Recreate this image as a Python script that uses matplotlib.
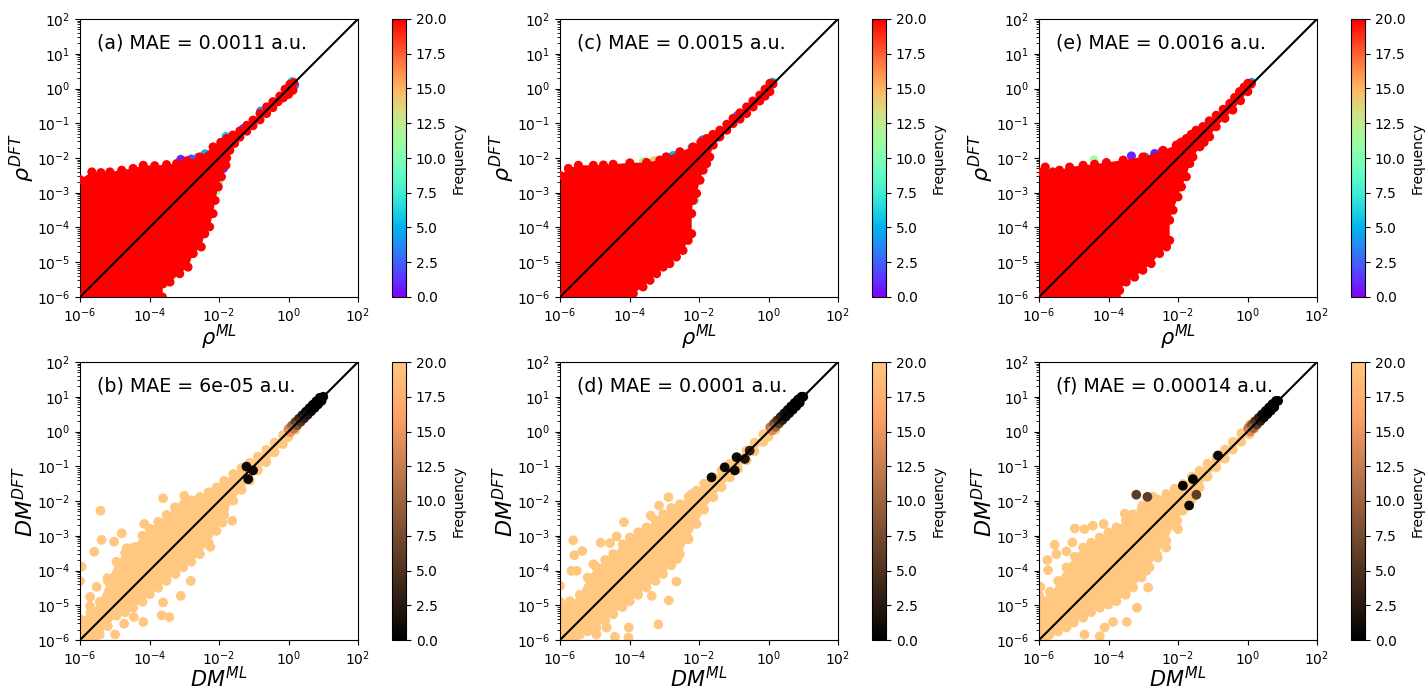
import numpy as np
import matplotlib
matplotlib.use("Agg")
from matplotlib import pyplot as plt
from matplotlib.ticker import NullLocator

# all coordinates below are log10 values

# ---- top row: electron density, outline of the (saturated) red cloud ----
a_edge_x = [-6, -6, -5.66, -5.40, -5.14, -4.80, -4.47, -4.18, -3.85, -3.51, -3.22, -2.93, -2.55, -2.17, -1.95,
            -1.78, -1.60, -1.40, -1.20, -1.02, -0.82, -0.63, -0.45, -0.25, -0.10, 0.04, 0.15,
            0.13, 0.00, -0.15, -0.30, -0.45, -0.63, -0.82, -1.02, -1.20, -1.40, -1.55, -1.69, -1.78, -1.80,
            -1.93, -2.02, -2.11, -2.17, -2.27, -2.41, -2.51, -2.74, -2.89, -3.13, -3.41, -3.61, -3.63]
a_edge_y = [-6, -2.62, -2.40, -2.42, -2.40, -2.35, -2.30, -2.21, -2.22, -2.19, -2.16, -2.08, -1.97, -1.68, -1.55,
            -1.44, -1.34, -1.22, -1.06, -0.91, -0.72, -0.53, -0.38, -0.22, -0.02, 0.12, 0.17,
            -0.05, -0.17, -0.27, -0.38, -0.55, -0.72, -0.90, -1.07, -1.23, -1.40, -1.58, -1.78, -2.00, -2.21,
            -2.54, -2.83, -3.22, -3.60, -3.98, -4.18, -4.56, -4.75, -5.14, -5.33, -5.57, -5.62, -6]
a_dot_x = [-3.10, -2.80, -2.60, -2.40, -1.80, -1.87, -2.02, -2.08, 0.10, 0.18, -1.30, -0.80]
a_dot_y = [-2.04, -2.03, -1.98, -1.88, -1.38, -2.30, -2.69, -2.95, 0.20, 0.10, -1.15, -0.65]
a_dot_f = [1, 2, 3, 5, 6, 1, 9, 11, 6, 3, 2, 4]

c_edge_x = [-6, -6, -5.76, -5.47, -5.04, -4.75, -4.47, -3.99, -3.51, -3.13, -2.94, -2.55, -2.17, -1.95, -1.78,
            -1.60, -1.40, -1.20, -1.02, -0.82, -0.63, -0.45, -0.25, -0.10, 0.04, 0.13,
            0.04, -0.10, -0.25, -0.44, -0.63, -0.82, -1.02, -1.20, -1.40, -1.59, -1.69, -1.78, -1.88, -1.97,
            -2.07, -2.17, -2.21, -2.21, -2.31, -2.46, -2.65, -2.84, -3.03, -3.22, -3.41, -3.61, -3.89, -3.94]
c_edge_y = [-6, -2.50, -2.30, -2.21, -2.21, -2.20, -2.18, -2.14, -2.13, -2.06, -1.97, -1.82, -1.68, -1.55, -1.44,
            -1.32, -1.20, -1.03, -0.86, -0.70, -0.53, -0.36, -0.19, -0.02, 0.15, 0.13,
            -0.09, -0.22, -0.36, -0.53, -0.72, -0.88, -1.01, -1.20, -1.39, -1.63, -1.97, -2.16, -2.35, -2.64,
            -3.02, -3.22, -3.60, -4.18, -4.37, -4.66, -4.85, -5.04, -5.14, -5.33, -5.52, -5.71, -5.90, -6]
c_dot_x = [-3.60, -3.30, -2.95, -2.75, -2.55, -2.20, -1.90, -1.45, -2.17, -2.12, 0.12, -0.90]
c_dot_y = [-2.10, -2.08, -1.97, -1.93, -1.84, -1.70, -1.48, -1.40, -3.10, -3.22, 0.18, -0.78]
c_dot_f = [12, 14, 6, 5, 2, 4, 3, 2, 7, 9, 5, 3]

e_edge_x = [-6, -6, -5.82, -5.60, -5.41, -5.12, -4.73, -4.40, -4.06, -3.58, -3.01, -2.43, -2.05, -1.90, -1.76,
            -1.62, -1.48, -1.28, -1.10, -0.90, -0.70, -0.51, -0.37, -0.23, -0.10, 0.01, 0.11,
            0.01, -0.20, -0.42, -0.65, -0.90, -1.09, -1.25, -1.37, -1.57, -1.66, -1.76, -1.90,
            -2.00, -2.14, -2.24, -2.24, -2.33, -2.53, -2.77, -3.01, -3.25, -3.49, -3.68, -3.77]
e_edge_y = [-6, -2.40, -2.26, -2.40, -2.35, -2.26, -2.21, -2.18, -2.13, -2.06, -1.97, -1.78, -1.63, -1.54, -1.44,
            -1.32, -1.20, -1.10, -0.93, -0.77, -0.60, -0.43, -0.26, -0.09, 0.04, 0.15, 0.13,
            -0.09, -0.35, -0.62, -0.86, -1.10, -1.39, -1.55, -1.68, -1.97, -2.16, -2.54, -2.83,
            -3.12, -3.50, -3.79, -4.37, -4.56, -4.75, -5.04, -5.23, -5.43, -5.57, -5.81, -6]
e_dot_x = [-4.42, -3.34, -2.95, -2.67, -2.45, -1.95, -1.28, -1.10, -1.62, -1.70, 0.12, -0.60]
e_dot_y = [-2.06, -1.94, -1.97, -1.87, -1.80, -1.58, -1.10, -1.02, -1.95, -2.05, 0.18, -0.60]
e_dot_f = [11, 1, 3, 1, 2, 2, 1, 2, 3, 9, 5, 2]

# ---- bottom row: density matrix, dense core band + scattered points ----
b_core_x = [-6, -5.7, -5.43, -5.2, -4.95, -4.7, -4.47, -4.2, -3.99, -3.75, -3.51, -3.25, -3.03, -2.8, -2.55,
            -2.3, -2.07, -1.85, -1.59, -1.35, -1.11, -0.88, -0.64, -0.40, -0.16, 0.05, 0.2,
            0.2, 0.0, -0.16, -0.4, -0.64, -0.88, -1.11, -1.35, -1.59, -1.85, -2.07, -2.3, -2.55, -2.8, -3.03,
            -3.25, -3.51, -3.75, -3.99, -4.2, -4.47, -4.7, -4.95, -5.2, -5.43, -5.6, -6]
b_core_y = [-5.40, -5.2, -4.9, -4.3, -3.75, -3.5, -3.34, -3.0, -2.80, -2.6, -2.40, -2.25, -2.10, -1.98, -1.89,
            -1.75, -1.61, -1.42, -1.22, -1.05, -0.90, -0.72, -0.53, -0.32, -0.10, 0.12, 0.28,
            0.05, -0.16, -0.36, -0.60, -0.88, -1.12, -1.41, -1.68, -1.99, -2.40, -2.86, -3.2, -3.53, -3.75, -3.91,
            -4.1, -4.30, -4.5, -4.68, -4.9, -5.07, -5.2, -5.30, -5.6, -5.84, -6, -6]
b_dot_x = [-3.61, -3.00, -5.41, -4.15, -5.38, -5.59, -4.80, -5.02, -5.95, -6.00, -5.52, -5.71, -5.21, -4.66,
           -4.40, -3.65, -3.43, -3.10, -4.18, -4.99, -4.73, -2.81, -2.25, -1.90, -1.62, -1.85, -2.43, -3.27,
           -2.55, -2.31, -1.93, -5.71, -5.43, -4.45, -3.61, -5.19, -3.94, -4.15]
b_dot_y = [-1.92, -1.85, -2.28, -2.66, -3.12, -3.46, -2.93, -3.17, -3.89, -4.30, -4.47, -4.76, -4.22, -3.36,
           -3.32, -5.29, -5.34, -4.73, -5.48, -5.84, -5.53, -4.30, -3.32, -2.62, -2.57, -2.23, -3.22, -2.18,
           -1.89, -1.89, -1.61, -5.02, -5.12, -5.34, -4.92, -4.68, -3.10, -3.53]
b_dark_x = [0.00, 0.10, 0.20, 0.30, 0.40, 0.50, 0.60, 0.70, 0.80, 0.90, 1.00,
            0.05, 0.15, 0.25, 0.35, 0.45, 0.55, 0.65, 0.75, 0.85, 0.95, -1.21, -1.02, -1.16]
b_dark_y = [0.07, 0.17, 0.27, 0.37, 0.47, 0.57, 0.67, 0.77, 0.87, 0.97, 1.00,
            -0.02, 0.08, 0.18, 0.28, 0.38, 0.48, 0.58, 0.68, 0.78, 0.88, -1.01, -1.12, -1.37]
b_dark_f = [14, 10, 6, 4, 2, 1, 1, 0, 0, 0, 0, 15, 12, 8, 5, 3, 2, 1, 0, 0, 0, 1, 1, 1]

d_core_x = [-6, -5.7, -5.43, -5.2, -4.95, -4.7, -4.47, -4.2, -3.99, -3.75, -3.51, -3.25, -3.03, -2.8, -2.55,
            -2.3, -2.07, -1.85, -1.59, -1.35, -1.11, -0.88, -0.63, -0.40, -0.15, 0.05, 0.2,
            0.2, 0.0, -0.15, -0.4, -0.63, -0.88, -1.11, -1.35, -1.59, -1.85, -2.07, -2.3, -2.55, -2.8, -3.03,
            -3.25, -3.51, -3.75, -3.99, -4.2, -4.47, -4.7, -4.95, -5.2, -5.43, -5.6, -6]
d_core_y = [-4.9, -4.95, -4.7, -4.2, -3.91, -3.7, -3.53, -3.25, -3.05, -2.9, -2.76, -2.55, -2.38, -2.2, -2.09,
            -1.88, -1.70, -1.5, -1.32, -1.12, -0.93, -0.74, -0.55, -0.32, -0.08, 0.12, 0.28,
            0.05, -0.15, -0.30, -0.57, -0.83, -1.08, -1.32, -1.60, -1.89, -2.25, -2.66, -3.1, -3.53, -3.85, -4.10,
            -4.3, -4.49, -4.7, -4.88, -5.05, -5.26, -5.45, -5.64, -5.75, -5.84, -6, -6]
d_dot_x = [-2.88, -3.15, -3.39, -4.16, -4.37, -4.83, -4.56, -5.62, -5.59, -5.36, -5.67, -5.52, -6.00, -5.71,
           -5.90, -4.66, -4.95, -4.42, -4.03, -4.02, -3.17, -3.36, -2.87, -2.65, -2.63, -2.60, -2.50, -2.12,
           -2.21, -2.50, -3.79, -5.04, -3.89, -4.47, -5.43, -5.71]
d_dot_y = [-1.89, -2.13, -2.42, -2.61, -3.02, -3.20, -3.21, -3.13, -3.56, -3.44, -4.01, -4.01, -4.44, -4.88,
           -5.21, -5.64, -5.84, -5.91, -5.93, -5.64, -5.55, -4.73, -4.86, -4.32, -3.67, -3.38, -3.14, -2.09,
           -1.80, -2.11, -3.10, -3.82, -4.30, -5.07, -5.36, -5.79]
d_dark_x = [0.05, 0.15, 0.25, 0.35, 0.45, 0.55, 0.65, 0.75, 0.85, 0.95, 1.00,
            0.10, 0.20, 0.30, 0.40, 0.50, 0.60, 0.70, 0.80, 0.90, -1.64, -1.26, -0.92, -0.97, -0.68, -0.54]
d_dark_y = [0.12, 0.22, 0.32, 0.42, 0.52, 0.62, 0.72, 0.82, 0.92, 1.00, 1.00,
            0.03, 0.13, 0.23, 0.33, 0.43, 0.53, 0.63, 0.73, 0.83, -1.32, -1.03, -0.74, -1.12, -0.79, -0.55]
d_dark_f = [12, 8, 5, 3, 2, 1, 0, 0, 0, 0, 0, 14, 10, 6, 3, 1, 1, 0, 0, 0, 1, 1, 1, 1, 2, 3]

f_core_x = [-6, -5.85, -5.69, -5.45, -5.21, -4.97, -4.73, -4.5, -4.25, -4.0, -3.77, -3.5, -3.29, -3.05, -2.82,
            -2.6, -2.34, -2.1, -1.86, -1.6, -1.38, -1.15, -0.90, -0.65, -0.42, -0.18, 0.06, 0.2,
            0.2, 0.06, -0.18, -0.42, -0.65, -0.90, -1.15, -1.38, -1.6, -1.86, -2.1, -2.34, -2.6, -2.82, -3.05,
            -3.29, -3.5, -3.77, -4.0, -4.25, -4.5, -4.73, -5.0, -5.21, -5.45, -5.69, -5.8, -6]
f_core_y = [-4.7, -4.9, -4.8, -4.3, -3.91, -3.6, -3.34, -3.2, -3.05, -2.9, -2.76, -2.55, -2.38, -2.22, -2.09,
            -1.95, -1.80, -1.65, -1.51, -1.3, -1.13, -0.93, -0.74, -0.52, -0.30, -0.05, 0.20, 0.3,
            0.08, -0.08, -0.30, -0.52, -0.78, -1.03, -1.3, -1.61, -1.95, -2.28, -2.7, -3.14, -3.55, -3.91, -4.2,
            -4.49, -4.7, -4.88, -4.98, -5.07, -5.2, -5.36, -5.5, -5.64, -5.75, -5.84, -6, -6]
f_dot_x = [-3.53, -3.02, -4.14, -4.45, -4.97, -4.69, -5.04, -5.55, -5.21, -5.50, -5.76, -5.74, -5.96, -6.00,
           -5.69, -5.86, -5.26, -4.69, -4.25, -4.11, -3.87, -3.47, -3.18, -2.86, -2.91, -2.58, -2.34, -2.00,
           -2.02, -2.43, -2.72]
f_dot_y = [-2.36, -2.13, -2.66, -2.71, -2.79, -2.81, -3.19, -3.26, -3.45, -3.53, -3.70, -3.99, -4.47, -4.76,
           -4.61, -5.07, -5.43, -5.84, -5.89, -5.64, -5.48, -5.48, -5.07, -4.49, -4.01, -3.63, -3.34, -2.81,
           -2.57, -2.62, -1.88]
f_dark_x = [0.02, 0.12, 0.22, 0.32, 0.42, 0.52, 0.62, 0.72, 0.82, 0.88,
            0.07, 0.17, 0.27, 0.37, 0.47, 0.57, 0.67, 0.77, -3.20, -2.88, -1.47, -1.68, -1.86, -1.57, -0.85]
f_dark_y = [0.09, 0.19, 0.29, 0.39, 0.49, 0.59, 0.69, 0.79, 0.88, 0.88,
            0.00, 0.10, 0.20, 0.30, 0.40, 0.50, 0.60, 0.70, -1.82, -1.88, -1.82, -2.13, -1.56, -1.37, -0.69]
f_dark_f = [12, 8, 5, 3, 1, 1, 0, 0, 0, 0, 14, 10, 6, 3, 1, 0, 0, 0, 6, 6, 6, 1, 0, 0, 1]

top_labels = ["(a) MAE = 0.0011 a.u.", "(c) MAE = 0.0015 a.u.", "(e) MAE = 0.0016 a.u."]
bot_labels = ["(b) MAE = 6e-05 a.u.", "(d) MAE = 0.0001 a.u.", "(f) MAE = 0.00014 a.u."]

W, H = 1425, 686
fig = plt.figure(figsize=(W / 100, H / 100), dpi=100)

ax_left = [80, 560, 1039]
cb_left = [392, 872, 1351]
row_top = [19, 362]
side = 278


def lg(v):
    return np.power(10.0, np.asarray(v, dtype=float))


def frame(ax, label, xlab, ylab):
    ax.plot([1e-6, 1e2], [1e-6, 1e2], color="black", lw=1.5, zorder=5)
    ax.set_xscale("log")
    ax.set_yscale("log")
    ax.set_xlim(1e-6, 1e2)
    ax.set_ylim(1e-6, 1e2)
    ax.set_xticks([1e-6, 1e-4, 1e-2, 1e0, 1e2])
    ax.xaxis.set_minor_locator(NullLocator())
    ax.set_yticks([10.0 ** k for k in range(-6, 3)])
    ax.text(0.06, 0.915, label, transform=ax.transAxes, fontsize=13.7, va="center", ha="left")
    ax.set_xlabel(xlab, fontsize=15, labelpad=-1.5)
    ax.set_ylabel(ylab, fontsize=16, labelpad=0)


def add_cbar(sc, i, r):
    cax = fig.add_axes([cb_left[i] / W, (H - row_top[r] - side) / H, 14 / W, side / H])
    cb = fig.colorbar(sc, cax=cax)
    cb.set_ticks(np.arange(0, 20.1, 2.5))
    cb.ax.set_yticklabels([f"{t:.1f}" for t in np.arange(0, 20.1, 2.5)])
    cb.set_label("Frequency", fontsize=10)


rainbow = plt.get_cmap("rainbow")
copper = plt.get_cmap("copper")

top_sets = [(a_edge_x, a_edge_y, a_dot_x, a_dot_y, a_dot_f),
            (c_edge_x, c_edge_y, c_dot_x, c_dot_y, c_dot_f),
            (e_edge_x, e_edge_y, e_dot_x, e_dot_y, e_dot_f)]
for i, (ex, ey, dx, dy, df) in enumerate(top_sets):
    ax = fig.add_axes([ax_left[i] / W, (H - row_top[0] - side) / H, side / W, side / H])
    ax.fill(lg(ex), lg(ey), color=rainbow(1.0), lw=0, zorder=2)
    ax.scatter(lg(dx), lg(dy), c=df, cmap="rainbow", vmin=0, vmax=20, s=30, zorder=1)
    sc = ax.scatter(lg(ex), lg(ey), c=np.full(len(ex), 20), cmap="rainbow", vmin=0, vmax=20, s=30, zorder=3)
    frame(ax, top_labels[i], r"$\rho^{ML}$", r"$\rho^{DFT}$")
    add_cbar(sc, i, 0)

bot_sets = [(b_core_x, b_core_y, b_dot_x, b_dot_y, b_dark_x, b_dark_y, b_dark_f),
            (d_core_x, d_core_y, d_dot_x, d_dot_y, d_dark_x, d_dark_y, d_dark_f),
            (f_core_x, f_core_y, f_dot_x, f_dot_y, f_dark_x, f_dark_y, f_dark_f)]
for i, (kx, ky, dx, dy, qx, qy, qf) in enumerate(bot_sets):
    ax = fig.add_axes([ax_left[i] / W, (H - row_top[1] - side) / H, side / W, side / H])
    ax.fill(lg(kx), lg(ky), color=copper(1.0), lw=0, zorder=2)
    ax.scatter(lg(kx), lg(ky), c=np.full(len(kx), 20), cmap="copper", vmin=0, vmax=20, s=36, zorder=2)
    sc = ax.scatter(lg(dx), lg(dy), c=np.full(len(dx), 20), cmap="copper", vmin=0, vmax=20, s=36, zorder=2)
    ax.scatter(lg(qx), lg(qy), c=qf, cmap="copper", vmin=0, vmax=20, s=36, zorder=3)
    frame(ax, bot_labels[i], r"$DM^{ML}$", r"$DM^{DFT}$")
    add_cbar(sc, i, 1)

fig.savefig("out.png", dpi=100)
